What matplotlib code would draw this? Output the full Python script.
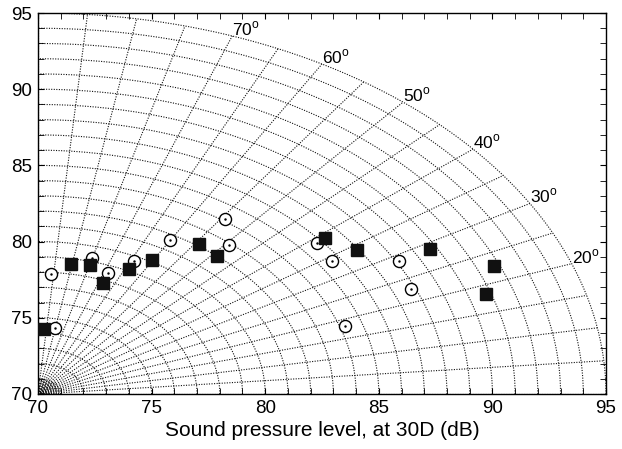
import numpy as np
import matplotlib
matplotlib.use("Agg")
import matplotlib.pyplot as plt

plt.rcParams['font.family'] = ['Liberation Sans', 'DejaVu Sans']
plt.rcParams['mathtext.fontset'] = 'custom'
plt.rcParams['mathtext.rm'] = 'Liberation Sans'

# Data
square_x = [70.28, 71.44, 72.27, 72.86, 73.99, 75.02, 77.09, 77.88, 82.63, 84.04, 87.25, 90.07, 89.72]
square_y = [74.25, 78.53, 78.46, 77.30, 78.22, 78.79, 79.86, 79.07, 80.25, 79.45, 79.51, 78.42, 76.58]
circle_x = [70.56, 70.75, 72.39, 73.07, 74.23, 75.81, 78.42, 78.23, 82.27, 82.95, 85.88, 86.40, 83.53]
circle_y = [77.85, 74.35, 78.90, 77.94, 78.73, 80.12, 79.76, 81.50, 79.93, 78.73, 78.75, 76.87, 74.46]

origin = (70, 70)
inner_radii = [0.1, 0.2, 0.3, 0.4, 0.5, 0.6, 0.7, 0.8, 0.9]
outer_radii = list(range(1, 26))
spoke_angles = list(range(0, 91, 5))
label_angles = [20, 30, 40, 50, 60, 70]
r_max = 25

fig = plt.figure(figsize=(6.22, 4.49), dpi=100)
ax = fig.add_axes([38/622, 1-394/449, (606-38)/622, (394-13)/449])

dot = (0, (1, 1.3))
gcol = '#111111'
t = np.linspace(0, np.pi/2, 200)
for r in inner_radii + outer_radii:
    ax.plot(origin[0] + r*np.cos(t), origin[1] + r*np.sin(t), ls=dot, lw=0.8, color=gcol, zorder=1)
for a in spoke_angles:
    th = np.deg2rad(a)
    ax.plot([origin[0], origin[0] + r_max*np.cos(th)], [origin[1], origin[1] + r_max*np.sin(th)],
            ls=dot, lw=0.8, color=gcol, zorder=1)
for a in label_angles:
    th = np.deg2rad(a)
    ax.text(origin[0] + r_max*np.cos(th), origin[1] + r_max*np.sin(th) - 0.15, r'%d$^{\rm o}$' % a,
            ha='left', va='bottom', fontsize=12.5, zorder=3)

ax.plot(circle_x, circle_y, ls='none', marker='o', ms=8.7, mfc='white', mec='black', mew=1.0, zorder=4)
ax.plot(circle_x, circle_y, ls='none', marker='.', ms=1.5, color='black', zorder=4)
ax.plot(square_x, square_y, ls='none', marker='s', ms=8.6, mfc='#111111', mec='#111111', zorder=5)

ax.set_xlim(70, 95)
ax.set_ylim(70, 95)
ax.set_xticks([70, 75, 80, 85, 90, 95])
ax.set_yticks([70, 75, 80, 85, 90, 95])
ax.set_xticks(np.arange(70, 96, 1), minor=True)
ax.set_yticks(np.arange(70, 96, 1), minor=True)
ax.tick_params(which='both', direction='in', top=True, right=True, labelsize=13.5, pad=4)
ax.tick_params(which='major', length=4)
ax.tick_params(which='minor', length=4)
for s in ax.spines.values():
    s.set_linewidth(1.0)
ax.set_xlabel('Sound pressure level, at 30D (dB)', fontsize=15, labelpad=3)

fig.savefig('out.png', dpi=100)
